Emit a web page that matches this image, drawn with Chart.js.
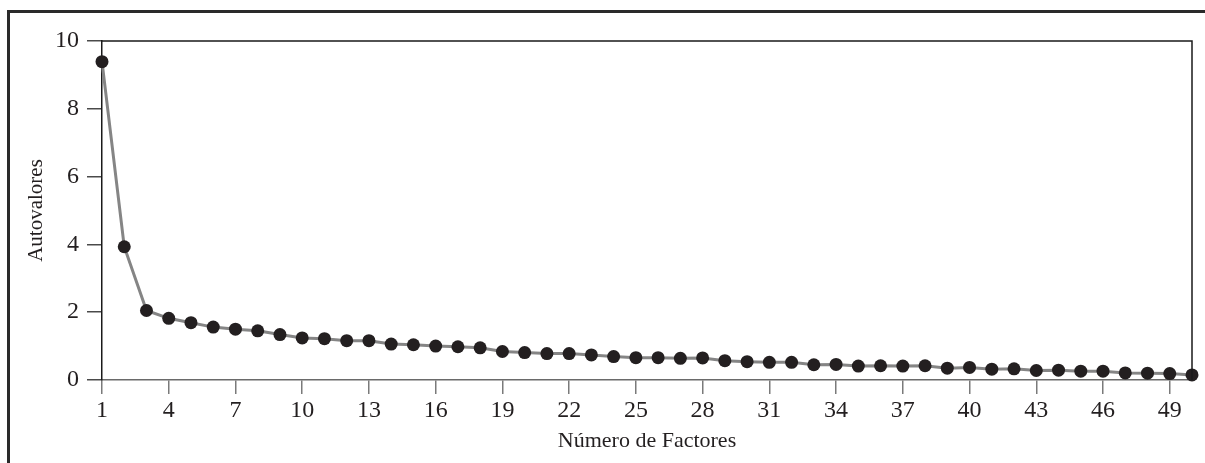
<!DOCTYPE html>
<html lang="es">
<head>
    <meta charset="UTF-8">
    <title>Autovalores</title>
    <script src="https://cdn.jsdelivr.net/npm/chart.js"></script>
    <style>
        html, body { margin: 0; padding: 0; background: #fff; overflow: hidden; }
        #wrap { position: relative; width: 1205px; height: 463px; }
        #screeChart { position: absolute; left: 0; top: 0; }
        #frame {
            position: absolute; left: 7px; top: 10px; width: 1250px; height: 520px;
            border: 3px solid #2a2a2a; pointer-events: none;
        }
    </style>
</head>
<body>
    <div id="wrap">
        <canvas id="screeChart" width="1205" height="463"></canvas>
        <div id="frame"></div>
    </div>

    <script>
        // Data
        var factores = [1, 2, 3, 4, 5, 6, 7, 8, 9, 10,
                        11, 12, 13, 14, 15, 16, 17, 18, 19, 20,
                        21, 22, 23, 24, 25, 26, 27, 28, 29, 30,
                        31, 32, 33, 34, 35, 36, 37, 38, 39, 40,
                        41, 42, 43, 44, 45, 46, 47, 48, 49, 50];
        var autovalores = [9.39, 3.93, 2.05, 1.82, 1.69, 1.56, 1.50, 1.45, 1.34, 1.24,
                           1.22, 1.16, 1.16, 1.06, 1.04, 1.00, 0.98, 0.95, 0.84, 0.81,
                           0.78, 0.78, 0.74, 0.69, 0.66, 0.66, 0.64, 0.65, 0.57, 0.54,
                           0.52, 0.52, 0.45, 0.46, 0.41, 0.42, 0.41, 0.42, 0.35, 0.37,
                           0.32, 0.33, 0.28, 0.29, 0.26, 0.26, 0.21, 0.20, 0.19, 0.15];
        var xTicks = [1, 4, 7, 10, 13, 16, 19, 22, 25, 28, 31, 34, 37, 40, 43, 46, 49];
        var yTicks = [0, 2, 4, 6, 8, 10];

        var serif = "'Liberation Serif', 'DejaVu Serif', serif";
        var ink = "#231f20";

        // top and right edges of the plot box
        var boxLines = {
            id: "boxLines",
            afterDraw: function(chart) {
                var a = chart.chartArea;
                var ctx = chart.ctx;
                ctx.save();
                ctx.strokeStyle = "#1a1a1a";
                ctx.lineWidth = 1.5;
                ctx.beginPath();
                ctx.moveTo(a.left, a.top);
                ctx.lineTo(a.right, a.top);
                ctx.lineTo(a.right, a.bottom);
                ctx.stroke();
                ctx.restore();
            }
        };

        function createScreeChart() {
            var ctx = document.getElementById("screeChart").getContext("2d");
            var points = factores.map(function(f, i) { return { x: f, y: autovalores[i] }; });

            new Chart(ctx, {
                type: "line",
                data: {
                    datasets: [{
                        data: points,
                        borderColor: "#858585",
                        borderWidth: 3,
                        pointRadius: 6.5,
                        pointBorderWidth: 0,
                        pointBackgroundColor: ink,
                        tension: 0,
                        clip: false
                    }]
                },
                options: {
                    responsive: false,
                    animation: false,
                    layout: { padding: { top: 41, right: 13, left: 0, bottom: 0 } },
                    plugins: { legend: { display: false }, tooltip: { enabled: false } },
                    scales: {
                        x: {
                            type: "linear",
                            min: 1,
                            max: 50,
                            afterBuildTicks: function(s) {
                                s.ticks = xTicks.map(function(v) { return { value: v }; });
                            },
                            afterFit: function(s) { s.height = 83; },
                            border: { color: "#6a6a6a", width: 1.5 },
                            grid: { drawOnChartArea: false, drawTicks: true, tickLength: 14, color: "#7a7a7a", lineWidth: 1.5 },
                            ticks: { color: ink, font: { family: serif, size: 24 }, padding: 2, autoSkip: false, maxRotation: 0 },
                            title: {
                                display: true,
                                text: "Número de Factores",
                                color: ink,
                                font: { family: serif, size: 22 },
                                padding: { top: 0, bottom: 9 }
                            }
                        },
                        y: {
                            min: 0,
                            max: 10,
                            afterBuildTicks: function(s) {
                                s.ticks = yTicks.map(function(v) { return { value: v }; });
                            },
                            afterFit: function(s) { s.width = 102; },
                            border: { color: "#1a1a1a", width: 1.5 },
                            grid: { drawOnChartArea: false, drawTicks: true, tickLength: 15, color: "#4a4a4a", lineWidth: 1.5 },
                            ticks: { color: ink, font: { family: serif, size: 24 }, padding: 8 },
                            title: {
                                display: true,
                                text: "Autovalores",
                                color: ink,
                                font: { family: serif, size: 21 },
                                padding: { top: 24, bottom: 0 }
                            }
                        }
                    }
                },
                plugins: [boxLines]
            });
        }

        createScreeChart();
    </script>
</body>
</html>
